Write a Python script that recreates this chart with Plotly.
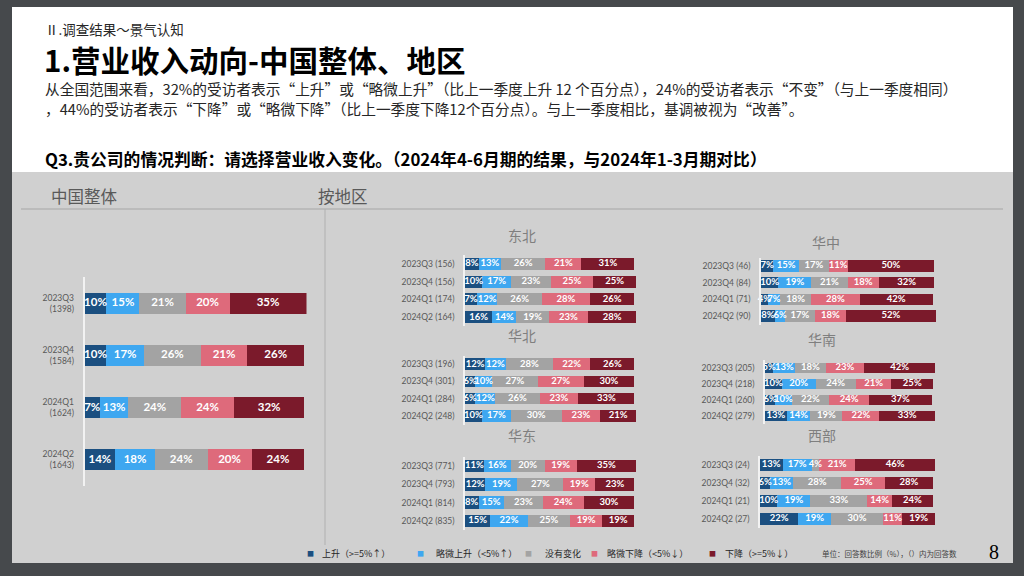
import plotly.graph_objects as go

W, H = 1024, 576

# ---------------- data ----------------
series_names = ["上升", "略微上升", "没有变化", "略微下降", "下降"]
legend_labels = ["上升（>=5%↑）", "略微上升（<5%↑）", "没有变化", "略微下降（<5%↓）", "下降（>=5%↓）"]
series_colors = ["#1b4f80", "#3ea7f0", "#a3a3a3", "#de6a7b", "#7b1a2b"]

periods = ["2023Q3", "2023Q4", "2024Q1", "2024Q2"]

china_n = [1398, 1584, 1624, 1643]
china_up = [10, 10, 7, 14]
china_slight_up = [15, 17, 13, 18]
china_same = [21, 26, 24, 24]
china_slight_down = [20, 21, 24, 20]
china_down = [35, 26, 32, 24]

region_names = ["东北", "华北", "华东", "华中", "华南", "西部"]
# each *_values: one list per series (上升, 略微上升, 没有变化, 略微下降, 下降), by period
dongbei_n = [156, 156, 174, 164]
dongbei_values = [[8, 10, 7, 16], [13, 17, 12, 14], [26, 23, 26, 19], [21, 25, 28, 23], [31, 25, 26, 28]]
huabei_n = [196, 301, 284, 248]
huabei_values = [[12, 6, 6, 10], [12, 10, 12, 17], [28, 27, 26, 30], [22, 27, 23, 23], [26, 30, 33, 21]]
huadong_n = [771, 793, 814, 835]
huadong_values = [[11, 12, 8, 15], [16, 19, 15, 22], [20, 27, 23, 25], [19, 19, 24, 19], [35, 23, 30, 19]]
huazhong_n = [46, 84, 71, 90]
huazhong_values = [[7, 10, 4, 8], [15, 19, 7, 6], [17, 21, 18, 17], [11, 18, 28, 18], [50, 32, 42, 52]]
huanan_n = [205, 218, 260, 279]
huanan_values = [[5, 10, 6, 13], [13, 20, 10, 14], [18, 24, 22, 19], [23, 21, 24, 22], [42, 25, 37, 33]]
xibu_n = [24, 32, 21, 27]
xibu_values = [[13, 6, 10, 22], [17, 13, 19, 19], [4, 28, 33, 30], [21, 25, 14, 11], [46, 28, 24, 19]]

header_small = "Ⅱ.调查结果～景气认知"
title_text = "1.营业收入动向-中国整体、地区"
body_line1 = "从全国范围来看，32%的受访者表示“上升”或“略微上升”（比上一季度上升 12 个百分点），24%的受访者表示“不变”（与上一季度相同）"
body_line2 = "，44%的受访者表示“下降”或“略微下降”（比上一季度下降12个百分点）。与上一季度相比，基调被视为“改善”。"
question_text = "Q3.贵公司的情况判断：请选择营业收入变化。（2024年4-6月期的结果，与2024年1-3月期对比）"
unit_note = "单位：回答数比例（%），（）内为回答数"
page_no = "8"

# ---------------- layout helpers ----------------
CJK = "Noto Sans CJK SC"
NUM = "Lato"


def fx(px):
    return px / W


def fy(py):
    return 1 - py / H


china_cats = [f"{p}<br>({n})" for p, n in zip(periods, china_n)]
china_series = [china_up, china_slight_up, china_same, china_slight_down, china_down]

regions = [
    ("东北", dongbei_n, dongbei_values, (465, 636), (255, 326), (522, 235)),
    ("华北", huabei_n, huabei_values, (465, 636), (355.5, 424.5), (522, 335)),
    ("华东", huadong_n, huadong_values, (465, 636), (457, 530), (522, 435)),
    ("华中", huazhong_n, huazhong_values, (761, 936), (257.5, 324.5), (826, 242)),
    ("华南", huanan_n, huanan_values, (765, 935), (360, 424), (822, 339)),
    ("西部", xibu_n, xibu_values, (760, 935), (456, 528), (822, 435)),
]

panels = [dict(cats=china_cats, series=china_series, xr=(84.5, 306.5), yr=(277, 486),
               width=0.40, lab=8.5, txt=11.5, title=None)]
for name, ns, vals, xr, yr, tpos in regions:
    panels.append(dict(cats=[f"{p} ({n})" for p, n in zip(periods, ns)], series=vals,
                       xr=xr, yr=yr, width=0.68, lab=8.5, txt=9.5, title=(name, tpos)))

fig = go.Figure()
layout_axes = {}
annotations = []

for i, pn in enumerate(panels):
    k = "" if i == 0 else str(i + 1)
    for s_idx, (sname, color) in enumerate(zip(series_names, series_colors)):
        vals = pn["series"][s_idx]
        fig.add_trace(go.Bar(
            x=vals, y=pn["cats"], orientation="h", name=sname,
            marker=dict(color=color, line=dict(width=0)),
            width=pn["width"],
            xaxis="x" + k, yaxis="y" + k, showlegend=False, hoverinfo="skip",
        ))
    # value labels drawn on top of all segments (centred on each stacked segment)
    base = [0] * len(pn["cats"])
    lx, ly, lt = [], [], []
    for vals in pn["series"]:
        for j, v in enumerate(vals):
            lx.append(base[j] + v / 2)
            ly.append(pn["cats"][j])
            lt.append(f"{v}%")
            base[j] += v
    fig.add_trace(go.Scatter(
        x=lx, y=ly, text=lt, mode="text", cliponaxis=False,
        textfont=dict(color="white", size=pn["txt"], family=NUM, weight="bold"),
        xaxis="x" + k, yaxis="y" + k, showlegend=False, hoverinfo="skip",
    ))
    layout_axes["xaxis" + k] = dict(domain=[fx(pn["xr"][0]), fx(pn["xr"][1])],
                                    range=[0, max(base)],
                                    visible=False, fixedrange=True, anchor="y" + k)
    layout_axes["yaxis" + k] = dict(domain=[fy(pn["yr"][1]), fy(pn["yr"][0])], type="category",
                                    categoryorder="array", categoryarray=pn["cats"],
                                    autorange="reversed", showline=True, linecolor="#f2f2f2",
                                    linewidth=1.5, showgrid=False, zeroline=False, ticks="",
                                    ticklabelstandoff=7,
                                    tickfont=dict(size=pn["lab"], color="#595959", family=NUM),
                                    anchor="x" + k, fixedrange=True)
    if pn["title"]:
        tname, (tx, ty) = pn["title"]
        annotations.append(dict(text=tname, x=fx(tx), y=fy(ty), xref="paper", yref="paper",
                                xanchor="center", yanchor="middle", showarrow=False,
                                font=dict(size=14, color="#7f7f7f", family=CJK)))


def ann(text, x, y, size, color="#000000", xanchor="left", family=CJK, weight="normal"):
    annotations.append(dict(text=text, x=fx(x), y=fy(y), xref="paper", yref="paper",
                            xanchor=xanchor, yanchor="middle", showarrow=False,
                            font=dict(size=size, color=color, family=family, weight=weight)))


ann(header_small, 43, 29, 13.5, "#262626")
ann(title_text, 42, 59, 29.5, "#000000", weight="bold")
ann(body_line1, 43, 89, 14.7, "#262626")
ann(body_line2, 43, 108, 14.7, "#262626")
ann(question_text, 43, 159, 16.8, "#000000", weight="bold")
ann("中国整体", 49, 196, 16.5, "#595959")
ann("按地区", 316, 196, 16.5, "#595959")

legend_sq_x = [310, 420, 528, 594, 712]
legend_tx_x = [320, 434, 543, 605, 723]
for lab, col, sx, tx in zip(legend_labels, series_colors, legend_sq_x, legend_tx_x):
    ann("■", sx, 553, 7, col, xanchor="center")
    ann(lab, tx, 553, 9, "#262626")
ann(unit_note, 820, 553, 7.5, "#404040")
ann(page_no, 994, 552, 20, "#000000", xanchor="center", family="Liberation Serif")

shapes = [
    dict(type="rect", xref="paper", yref="paper", x0=fx(12), x1=fx(1013), y0=fy(563), y1=fy(7),
         fillcolor="#ffffff", line=dict(width=0), layer="below"),
    dict(type="rect", xref="paper", yref="paper", x0=fx(12), x1=fx(1013), y0=fy(563), y1=fy(172),
         fillcolor="#d0d0d0", line=dict(width=0), layer="below"),
    dict(type="line", xref="paper", yref="paper", x0=fx(21), x1=fx(1003), y0=fy(209), y1=fy(209),
         line=dict(color="#a6a6a6", width=1), layer="below"),
    dict(type="line", xref="paper", yref="paper", x0=fx(325), x1=fx(325), y0=fy(209), y1=fy(545),
         line=dict(color="#b0b0b0", width=1), layer="below"),
]

fig.update_layout(
    width=W, height=H, margin=dict(l=0, r=0, t=0, b=0),
    paper_bgcolor="#46494c", plot_bgcolor="rgba(0,0,0,0)",
    barmode="stack", showlegend=False,
    annotations=annotations, shapes=shapes,
    **layout_axes,
)

fig.write_html("out.html", config={"displayModeBar": False})
